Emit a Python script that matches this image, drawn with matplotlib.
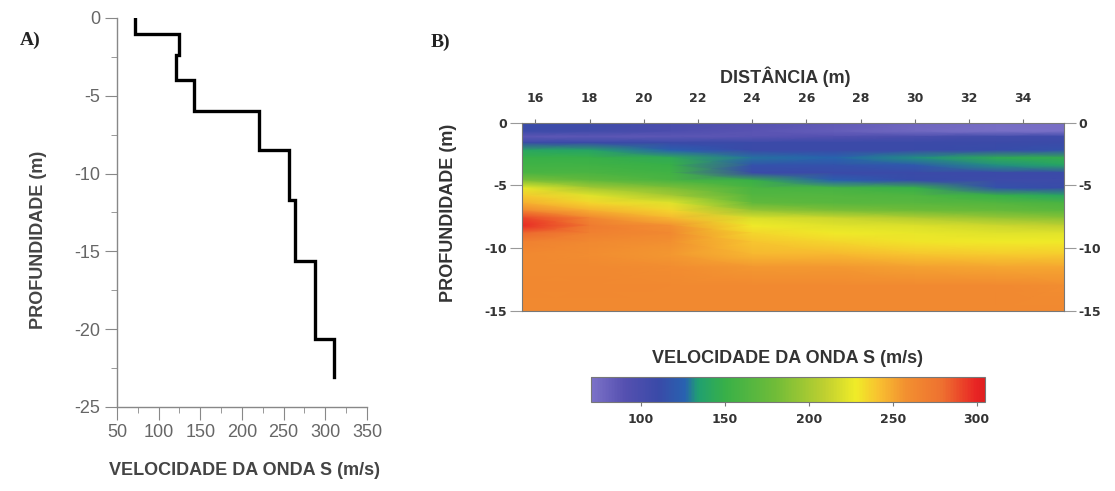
import numpy as np
import matplotlib
matplotlib.use("Agg")
import matplotlib.pyplot as plt
from matplotlib.colors import LinearSegmentedColormap
from matplotlib.ticker import MultipleLocator

plt.rcParams['font.family'] = ['Liberation Sans', 'DejaVu Sans']
plt.rcParams['axes.unicode_minus'] = False

# --- painel A: perfil Vs (degraus) ---
vs_perfil = [72, 124, 121, 142, 220, 256, 264, 288, 310]
prof_limites = [0, -1.0, -2.4, -4.0, -6.0, -8.5, -11.7, -15.6, -20.6, -23.1]

# --- painel B: secao de Vs ---
distancia = [15.5, 18, 21, 24, 27, 30, 33, 35.5]
profundidade = [0, -0.7, -1.1, -1.6, -2.2, -2.8, -3.4, -4.0, -4.6, -5.2, -5.8,
                -6.4, -7.0, -7.6, -8.2, -8.8, -9.5, -10.5, -11.5, -13, -15]
vs_secao = [
    [112, 108, 100, 92, 85, 78, 74, 72],
    [108, 104, 96, 88, 82, 76, 72, 72],
    [86, 86, 86, 88, 92, 98, 104, 106],
    [110, 110, 110, 110, 110, 110, 110, 110],
    [140, 138, 125, 110, 110, 110, 112, 115],
    [150, 150, 145, 128, 126, 132, 145, 148],
    [155, 155, 150, 115, 115, 120, 132, 138],
    [160, 160, 155, 110, 110, 110, 110, 110],
    [185, 172, 160, 150, 125, 112, 108, 108],
    [225, 200, 185, 160, 158, 150, 115, 112],
    [238, 222, 200, 165, 165, 162, 150, 140],
    [248, 235, 222, 172, 168, 168, 165, 160],
    [265, 248, 235, 195, 185, 180, 175, 170],
    [292, 265, 245, 220, 215, 205, 195, 190],
    [298, 272, 258, 228, 222, 220, 215, 210],
    [282, 268, 262, 235, 228, 225, 222, 222],
    [268, 262, 258, 240, 235, 230, 228, 228],
    [262, 260, 255, 245, 245, 240, 238, 238],
    [262, 262, 260, 255, 255, 252, 250, 250],
    [263, 263, 262, 262, 262, 262, 262, 260],
    [262, 262, 262, 262, 262, 262, 262, 262],
]
dist_ticks = [16, 18, 20, 22, 24, 26, 28, 30, 32, 34]
prof_ticks = [0, -5, -10, -15]
cbar_ticks = [100, 150, 200, 250, 300]
vmin, vmax = 70, 305

cores = [(70, '#7c72c8'), (90, '#5550b0'), (110, '#3a4aa8'), (126, '#2862b0'),
         (134, '#20a070'), (150, '#38b048'), (180, '#70bc38'), (210, '#c0d030'),
         (228, '#f0ec28'), (242, '#f8c030'), (258, '#f29030'), (280, '#ee7030'),
         (300, '#e82424'), (305, '#e02020')]
cmap = LinearSegmentedColormap.from_list(
    'vs', [((v - vmin) / (vmax - vmin), c) for v, c in cores])

cinza = '#666666'
fig = plt.figure(figsize=(11.15, 4.91), dpi=100)

# ---------------- A ----------------
axA = fig.add_axes([0.1049, 0.1711, 0.2242, 0.7923])
xs = []
ys = []
for i, v in enumerate(vs_perfil):
    xs += [v, v]
    ys += [prof_limites[i], prof_limites[i + 1]]
axA.plot(xs, ys, color='black', lw=2.4, solid_joinstyle='miter')
axA.set_xlim(50, 350)
axA.set_ylim(-25, 0)
axA.xaxis.set_major_locator(MultipleLocator(50))
axA.xaxis.set_minor_locator(MultipleLocator(25))
axA.yaxis.set_major_locator(MultipleLocator(5))
axA.yaxis.set_minor_locator(MultipleLocator(2.5))
for s in ['top', 'right']:
    axA.spines[s].set_visible(False)
for s in ['left', 'bottom']:
    axA.spines[s].set_color('#888888')
    axA.spines[s].set_linewidth(1.0)
axA.tick_params(which='major', direction='out', length=9, color='#888888',
                labelcolor=cinza, labelsize=13, pad=3)
axA.tick_params(which='minor', direction='out', length=4, color='#888888')
axA.set_xlabel('VELOCIDADE DA ONDA S (m/s)', color='#444444', fontsize=13,
               fontweight='bold')
axA.xaxis.set_label_coords(0.51, -0.141)
axA.set_ylabel('PROFUNDIDADE (m)', color='#444444', fontsize=13,
               fontweight='bold')
axA.yaxis.set_label_coords(-0.28, 0.43)
fig.text(0.018, 0.908, 'A)', family='Liberation Serif', fontsize=14,
         fontweight='bold', color='#222222')

# ---------------- B ----------------
axB = fig.add_axes([0.4679, 0.3666, 0.4864, 0.3835])
mesh = axB.pcolormesh(distancia, profundidade, np.array(vs_secao),
                      shading='gouraud', cmap=cmap, vmin=vmin, vmax=vmax)
axB.set_xlim(15.5, 35.5)
axB.set_ylim(-15, 0)
axB.set_xticks(dist_ticks)
axB.set_yticks(prof_ticks)
axB.xaxis.tick_top()
axB.tick_params(axis='x', direction='out', length=3, pad=10, color='#777777',
                labelsize=9, labelcolor='#333333')
axB.tick_params(axis='y', direction='out', length=8.5, color='#999999',
                labelsize=9, labelcolor='#333333', right=True, labelright=True, pad=2)
for lab in axB.get_xticklabels() + axB.get_yticklabels():
    lab.set_family('DejaVu Sans')
    lab.set_fontweight('bold')
for s in axB.spines.values():
    s.set_color('#777777')
    s.set_linewidth(0.8)
axB.set_xlabel('DISTÂNCIA (m)', color='#333333', fontsize=13, fontweight='bold')
axB.xaxis.set_label_position('top')
axB.xaxis.set_label_coords(0.486, 1.21)
axB.set_ylabel('PROFUNDIDADE (m)', color='#333333', fontsize=13, fontweight='bold')
axB.yaxis.set_label_coords(-0.119, 0.52)
fig.text(0.386, 0.905, 'B)', family='Liberation Serif', fontsize=14,
         fontweight='bold', color='#222222')

cax = fig.add_axes([0.5298, 0.1813, 0.3536, 0.0509])
cb = fig.colorbar(mesh, cax=cax, orientation='horizontal', ticks=cbar_ticks)
cb.outline.set_edgecolor('#777777')
cb.outline.set_linewidth(0.8)
cax.tick_params(direction='out', length=3, color='#777777', labelsize=9,
                labelcolor='#333333', pad=5)
for lab in cax.get_xticklabels():
    lab.set_family('DejaVu Sans')
    lab.set_fontweight('bold')
cax.set_title('VELOCIDADE DA ONDA S (m/s)', color='#333333', fontsize=13,
              fontweight='bold', pad=10)

fig.savefig('out.png', dpi=100)
